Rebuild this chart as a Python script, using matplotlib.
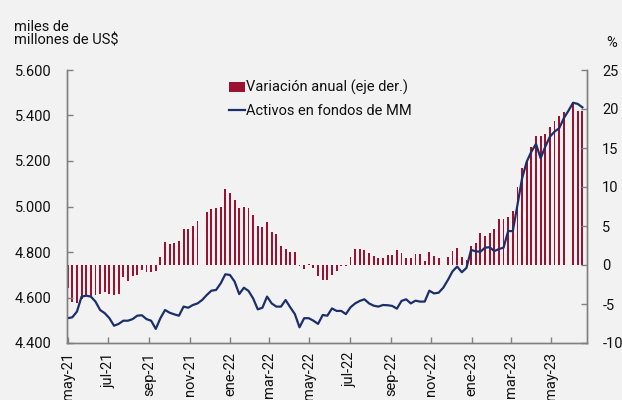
import matplotlib
matplotlib.use("Agg")
import matplotlib.pyplot as plt
import matplotlib.dates as mdates
from matplotlib.patches import Patch
from matplotlib.lines import Line2D
from matplotlib.ticker import FixedLocator, FuncFormatter
import numpy as np
import pandas as pd

plt.rcParams['font.family'] = ['Roboto', 'DejaVu Sans']

# ---- data ----
dates = pd.date_range('2021-05-01', periods=112, freq='7D')

variacion_anual = [
    -3.0, -4.8, -4.9, -4.3, -4.0, -4.0, -3.85, -3.7, -3.4, -3.7,
    -3.9, -3.7, -1.6, -2.0, -1.4, -1.25, -0.65, -0.85, -0.85, -0.75,
    1.05, 3.0, 2.7, 2.8, 3.1, 4.6, 4.6, 5.0, 5.6, np.nan,
    6.85, 7.15, 7.35, 7.5, 9.75, 9.2, 8.35, 7.25, 7.45, 7.35,
    6.4, 5.0, 4.85, 5.55, 4.2, 3.95, 2.5, 2.05, 1.7, 1.7,
    -0.17, -0.5, 0.08, -0.43, -1.4, -1.92, -1.92, -1.28, -0.8, -0.1,
    -0.1, 1.0, 2.1, 2.1, 1.9, 1.6, 1.2, 0.85, 0.85, 1.25,
    1.25, 1.92, 1.5, 0.9, 0.95, 1.37, 1.4, 0.5, 1.62, 1.1,
    0.95, np.nan, 1.07, 1.75, 2.22, 0.98, 0.64, 2.44, 2.78, 4.06,
    3.72, 4.15, 4.57, 5.85, 5.85, 6.2, 6.97, 10.0, 12.5, 13.25,
    15.1, 16.5, 16.55, 16.75, 17.7, 18.4, 19.1, 19.6, np.nan, 20.85,
    19.8, 19.7,
]

activos_mm = [
    4.509, 4.513, 4.538, 4.604, 4.608, 4.604, 4.582, 4.545, 4.531, 4.509,
    4.476, 4.484, 4.498, 4.498, 4.505, 4.520, 4.522, 4.505, 4.498, 4.462,
    4.509, 4.545, 4.533, 4.526, 4.520, 4.560, 4.555, 4.567, 4.574, 4.589,
    4.611, 4.630, 4.633, 4.662, 4.702, 4.699, 4.670, 4.615, 4.643, 4.629,
    4.596, 4.548, 4.555, 4.604, 4.574, 4.560, 4.560, 4.589, 4.557, 4.527,
    4.469, 4.509, 4.509, 4.498, 4.484, 4.523, 4.520, 4.552, 4.541, 4.541,
    4.527, 4.557, 4.574, 4.585, 4.592, 4.574, 4.564, 4.560, 4.567, 4.566,
    4.563, 4.551, 4.585, 4.592, 4.574, 4.586, 4.582, 4.582, 4.630, 4.618,
    4.621, 4.643, 4.677, 4.715, 4.736, 4.711, 4.730, 4.809, 4.803, 4.801,
    4.819, 4.821, 4.804, 4.813, 4.819, 4.892, 4.892, 5.007, 5.124, 5.197,
    5.241, 5.275, 5.212, 5.263, 5.307, 5.329, 5.344, 5.388, 5.421, 5.456,
    5.451, 5.436,
]

left_ticks = [4.4, 4.6, 4.8, 5.0, 5.2, 5.4, 5.6]
right_ticks = [-10, -5, 0, 5, 10, 15, 20, 25]
meses = ['ene', 'feb', 'mar', 'abr', 'may', 'jun', 'jul', 'ago', 'sep', 'oct', 'nov', 'dic']
x_ticks = pd.date_range('2021-05-01', '2023-05-01', freq='2MS')

label_bar = 'Variación anual (eje der.)'
label_line = 'Activos en fondos de MM'

# ---- style ----
bg = '#F2F2F2'
bar_color = '#9B1230'
line_color = '#1B2F6B'
spine_color = '#808080'
fs = 10.5

fig = plt.figure(figsize=(6.22, 4.0), dpi=100, facecolor=bg)
ax_l = fig.add_axes([67/622, 1-343/400, (587-67)/622, (343-70)/400])
ax_r = ax_l.twinx()
ax_l.set_zorder(ax_r.get_zorder() + 1)
ax_l.patch.set_visible(False)
ax_r.set_facecolor(bg)

ax_r.bar(dates, variacion_anual, width=2.8, color=bar_color, linewidth=0)
ax_l.plot(dates, activos_mm, color=line_color, linewidth=1.6)

ax_l.set_xlim(pd.Timestamp('2021-04-30'), pd.Timestamp('2023-06-24'))
ax_l.set_ylim(4.4, 5.6)
ax_r.set_ylim(-10, 25)

ax_l.yaxis.set_major_locator(FixedLocator(left_ticks))
ax_l.yaxis.set_major_formatter(FuncFormatter(lambda v, p: f"{v:.3f}"))
ax_r.yaxis.set_major_locator(FixedLocator(right_ticks))
ax_r.yaxis.set_major_formatter(FuncFormatter(lambda v, p: f"{int(round(v))}"))

ax_l.xaxis.set_major_locator(FixedLocator(mdates.date2num(x_ticks)))
ax_l.set_xticklabels([f"{meses[d.month-1]}-{d.strftime('%y')}" for d in x_ticks],
                     rotation=90, fontsize=fs)

for ax in (ax_l, ax_r):
    for s in ax.spines.values():
        s.set_color(spine_color)
        s.set_linewidth(1.0)
    ax.spines['top'].set_visible(False)
    ax.tick_params(direction='in', length=4, width=1.0, color=spine_color,
                   labelsize=fs, labelcolor='#111111')

ax_l.tick_params(axis='y', pad=11)
ax_r.tick_params(axis='y', pad=11)
ax_l.tick_params(axis='x', pad=6.5)

fig.text(14/622, 1-20/400, 'miles de', fontsize=fs, ha='left', va='top', color='#111111')
fig.text(14/622, 1-33.5/400, 'millones de US$', fontsize=fs, ha='left', va='top', color='#111111')
fig.text(617/622, 1-36/400, '%', fontsize=fs, ha='right', va='top', color='#111111')

handles = [Patch(facecolor=bar_color, edgecolor='none'),
           Line2D([0], [0], color=line_color, linewidth=1.6)]
leg = ax_l.legend(handles, [label_bar, label_line], loc='upper left',
                  bbox_to_anchor=((229-67)/520, 0.963), frameon=False,
                  fontsize=fs, handlelength=1.1, handleheight=0.6,
                  handletextpad=0.1, labelspacing=0.6, borderpad=0, borderaxespad=0)
for t in leg.get_texts():
    t.set_color('#111111')

fig.savefig('out.png', dpi=100, facecolor=bg)
